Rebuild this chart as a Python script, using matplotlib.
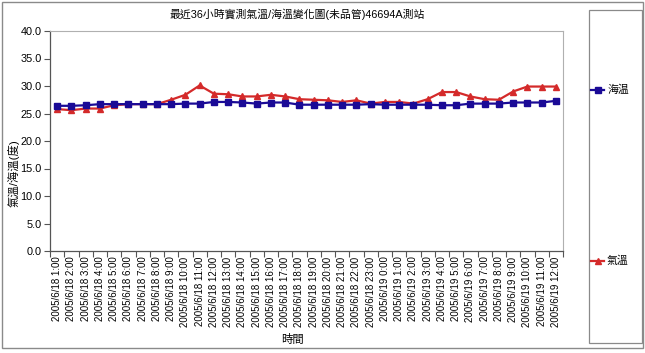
import matplotlib
matplotlib.use("Agg")
import matplotlib.pyplot as plt
from matplotlib.lines import Line2D
from matplotlib.patches import Rectangle
from matplotlib.ticker import FixedLocator, NullFormatter

plt.rcParams['font.family'] = ['Liberation Sans', 'Noto Sans CJK TC', 'DejaVu Sans']

times = ([f"2005/6/18 {h}:00" for h in range(1, 24)] +
         [f"2005/6/19 {h}:00" for h in range(0, 13)])

sea_temp = [26.4, 26.4, 26.5, 26.7, 26.7, 26.7, 26.7, 26.7, 26.7, 26.8,
            26.8, 27.1, 27.1, 27.0, 26.8, 27.0, 27.0, 26.6, 26.6, 26.6,
            26.6, 26.6, 26.7, 26.6, 26.6, 26.6, 26.6, 26.5, 26.5, 26.8,
            26.8, 26.8, 27.0, 27.0, 27.0, 27.3]
air_temp = [25.8, 25.6, 25.9, 25.9, 26.5, 26.7, 26.7, 26.7, 27.5, 28.4,
            30.1, 28.6, 28.5, 28.1, 28.1, 28.4, 28.1, 27.6, 27.5, 27.4,
            27.1, 27.4, 26.8, 27.1, 27.1, 26.8, 27.6, 28.9, 28.9, 28.1,
            27.6, 27.5, 29.0, 29.9, 29.9, 29.9]
yticks = [0, 5, 10, 15, 20, 25, 30, 35, 40]

title = "最近36小時實測氣溫/海溫變化圖(未品管)46694A測站"
ylabel = "氣溫/海溫(度)"
xlabel = "時間"
sea_label = "海温"
air_label = "氣溫"

W, H = 645, 353
fig = plt.figure(figsize=(W / 100, H / 100), dpi=100)
fig.patch.set_facecolor('white')

left, right, top, bottom = 50, 563, 31, 251
ax = fig.add_axes([left / W, 1 - bottom / H, (right - left) / W, (bottom - top) / H])

blue = '#1a0a96'
red = '#d42a2a'
x = list(range(len(times)))
ax.plot(x, sea_temp, color=blue, lw=1.6, marker='s', ms=4.3, mec=blue, mfc=blue, zorder=3)
ax.plot(x, air_temp, color=red, lw=1.6, marker='^', ms=5, mec=red, mfc=red, zorder=2)

ax.set_xlim(-0.5, len(times) - 0.5)
ax.set_ylim(0, 40)
ax.set_yticks(yticks)
ax.set_yticklabels([f"{v:.1f}" for v in yticks], fontsize=7.8)
ax.set_xticks(x)
ax.set_xticklabels(times, rotation=90, fontsize=7.0)
ax.tick_params(axis='x', which='major', length=0, pad=4)
ax.xaxis.set_minor_locator(FixedLocator([i - 0.5 for i in range(len(times) + 1)]))
ax.xaxis.set_minor_formatter(NullFormatter())
ax.tick_params(axis='x', which='minor', length=4, width=0.8, color='#555555', direction='out')
ax.tick_params(axis='y', length=4, width=0.8, color='#555555', direction='out', pad=2)

for s in ['left', 'bottom']:
    ax.spines[s].set_color('#555555')
    ax.spines[s].set_linewidth(0.9)
for s in ['right', 'top']:
    ax.spines[s].set_color('#b0b0b0')
    ax.spines[s].set_linewidth(0.8)

fig.text(297 / W, 1 - 14 / H, title, ha='center', va='center', fontsize=7.8)
fig.text(14 / W, 1 - 173 / H, ylabel, ha='center', va='center', rotation=90, fontsize=8.2)
fig.text(293 / W, 1 - 339 / H, xlabel, ha='center', va='center', fontsize=8.2)

# outer chart frame
fig.add_artist(Rectangle((2 / W, 1 - 348 / H), 641 / W, 346 / H, transform=fig.transFigure,
                         fill=False, edgecolor='#8a8a8a', lw=1.0))
# legend box
fig.add_artist(Rectangle((589 / W, 1 - 343 / H), 53 / W, 333 / H, transform=fig.transFigure,
                         fill=False, edgecolor='#8a8a8a', lw=0.9))
for yy, col, mk, lab in [(90, blue, 's', sea_label), (261, red, '^', air_label)]:
    fig.add_artist(Line2D([591 / W, 604 / W], [1 - yy / H, 1 - yy / H], transform=fig.transFigure,
                          color=col, lw=1.6))
    fig.add_artist(Line2D([597.5 / W], [1 - yy / H], transform=fig.transFigure,
                          color=col, marker=mk, ms=4.8, mfc=col, mec=col, lw=0))
    fig.text(607 / W, 1 - yy / H, lab, ha='left', va='center', fontsize=7.8)

fig.savefig('out.png', dpi=100, facecolor='white')
